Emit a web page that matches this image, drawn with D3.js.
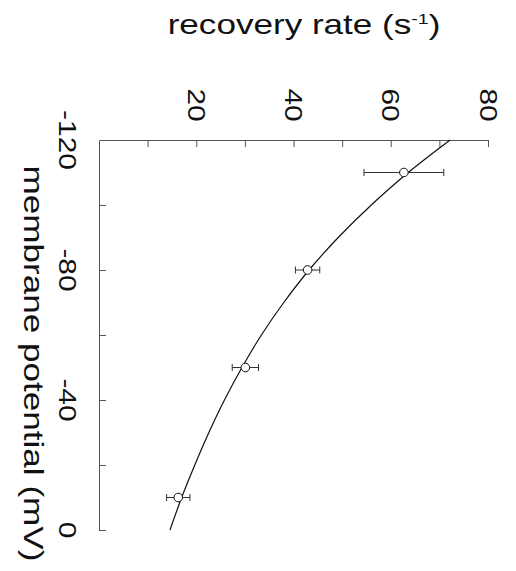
<!DOCTYPE html>
<html lang="en">
<head>
  <meta charset="UTF-8">
  <title>recovery rate vs membrane potential</title>
  <script src="https://d3js.org/d3.v7.min.js"></script>
  <style>
    body { margin: 0; background: #fff; }
    text { font-family: "Liberation Sans", Arial, sans-serif; fill: #111; }
  </style>
</head>
<body>
<svg></svg>

<script>
  // measured points (potential in mV, rate in 1/s, error half-width)
  const potential = [-110, -80, -50, -10]
  const rate = [62.7, 42.9, 30.1, 16.3]
  const rateErr = [8.2, 2.5, 2.7, 2.4]

  // fitted curve
  const fitPotential = [-120, -110, -100, -90, -80, -70, -60, -50, -40, -30, -20, -10, 0]
  const fitRate = [72.2, 63.6, 56.0, 49.2, 43.2, 38.0, 33.4, 29.4, 25.8, 22.6, 19.7, 17.0, 14.6]

  // ticks
  const rateTicks = [10, 20, 30, 40, 50, 60, 70, 80]
  const rateLabels = [20, 40, 60, 80]
  const potentialTicks = [-100, -80, -60, -40, -20, 0]
  const potentialLabels = [-120, -80, -40, 0]

  const width = 516
  const height = 571
  const stretch = 1.3 // the lettering in the figure is wide

  const svg = d3.select('svg')
    .attr('width', width)
    .attr('height', height)

  // figure is turned a quarter: rate runs left->right, potential top->bottom
  const x = d3.scaleLinear().domain([0, 80]).range([99, 488])
  const y = d3.scaleLinear().domain([-120, 0]).range([140, 530])

  // top axis (recovery rate)
  const topAxis = svg.append('g')
    .attr('transform', `translate(0,${y(-120)})`)
    .call(d3.axisTop(x).tickValues(rateTicks).tickSize(-7).tickSizeOuter(0).tickFormat(''))
  topAxis.select('.domain').attr('stroke', '#555')
  topAxis.selectAll('.tick line').attr('stroke', '#555')

  // left axis (membrane potential)
  const leftAxis = svg.append('g')
    .attr('transform', `translate(${x(0)},0)`)
    .call(d3.axisLeft(y).tickValues(potentialTicks).tickSize(-7).tickSizeOuter(0).tickFormat(''))
  leftAxis.select('.domain').attr('stroke', '#555')
  leftAxis.selectAll('.tick line').attr('stroke', '#555')

  // tick labels, turned like the rest of the figure
  svg.append('g')
    .selectAll('text')
    .data(rateLabels)
    .join('text')
    .attr('transform', d => `translate(${x(d)},105) rotate(90) scale(${stretch},1)`)
    .attr('text-anchor', 'middle')
    .attr('dy', '0.36em')
    .style('font-size', '23px')
    .text(d => d)

  svg.append('g')
    .selectAll('text')
    .data(potentialLabels)
    .join('text')
    .attr('transform', d => `translate(67,${y(d)}) rotate(90) scale(${stretch},1)`)
    .attr('text-anchor', 'middle')
    .attr('dy', '0.36em')
    .style('font-size', '23px')
    .text(d => d)

  // axis titles
  const title = svg.append('text')
    .attr('transform', `translate(304,34) scale(${stretch},1)`)
    .attr('text-anchor', 'middle')
    .style('font-size', '27px')
  title.append('tspan').text('recovery rate (s')
  title.append('tspan').attr('dy', -10).style('font-size', '15px').text('-1')
  title.append('tspan').attr('dy', 10).text(')')

  svg.append('text')
    .attr('transform', `translate(34,${(157 + 570) / 2}) rotate(90) scale(${stretch},1)`)
    .attr('text-anchor', 'middle')
    .attr('dy', '0.36em')
    .style('font-size', '27px')
    .text('membrane potential (mV)')

  // fitted curve
  const fit = fitPotential.map((v, i) => ({ v: v, r: fitRate[i] }))
  const line = d3.line()
    .x(d => x(d.r))
    .y(d => y(d.v))
    .curve(d3.curveMonotoneY)

  svg.append('path')
    .datum(fit)
    .attr('d', line)
    .attr('fill', 'none')
    .attr('stroke', '#111')
    .attr('stroke-width', 1.2)

  // points with horizontal error bars
  const pts = potential.map((v, i) => ({ v: v, r: rate[i], e: rateErr[i] }))
  const pt = svg.append('g')
    .selectAll('g')
    .data(pts)
    .join('g')

  pt.append('line')
    .attr('x1', d => x(d.r - d.e))
    .attr('x2', d => x(d.r + d.e))
    .attr('y1', d => y(d.v))
    .attr('y2', d => y(d.v))
    .attr('stroke', '#333')
    .attr('stroke-width', 1)

  pt.each(function (d) {
    const cap = d3.select(this)
    ;[d.r - d.e, d.r + d.e].forEach(r => {
      cap.append('line')
        .attr('x1', x(r)).attr('x2', x(r))
        .attr('y1', y(d.v) - 3.5).attr('y2', y(d.v) + 3.5)
        .attr('stroke', '#333')
        .attr('stroke-width', 1)
    })
  })

  pt.append('circle')
    .attr('cx', d => x(d.r))
    .attr('cy', d => y(d.v))
    .attr('r', 4.3)
    .attr('fill', '#fff')
    .attr('stroke', '#111')
    .attr('stroke-width', 1)
</script>
</body>
</html>
